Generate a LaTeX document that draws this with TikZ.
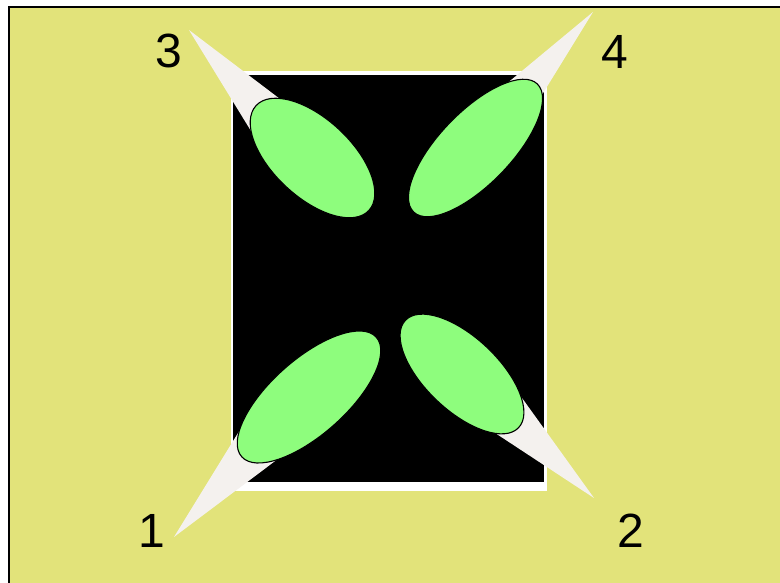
\documentclass[tikz,border=0pt]{standalone}
\usepackage{fontspec}
\setmainfont{Liberation Sans}
\definecolor{bgyellow}{HTML}{E2E37A}
\definecolor{leafgreen}{HTML}{8EFD7D}
\definecolor{spikewhite}{HTML}{F4F1EE}
\tikzset{
  spike/.style={fill=spikewhite, draw=none},
  leaf/.style={fill=leafgreen, draw=black, line width=1.1pt},
  numlabel/.style={inner sep=0pt, font=\fontsize{48}{48}\selectfont},
}
\begin{document}
\begin{tikzpicture}[x=1pt,y=-1pt]
\useasboundingbox (0,0) rectangle (780,583);
\clip (0,0) rectangle (780,583);
\fill[white] (0,0) rectangle (780,583);
% background panel
\filldraw[fill=bgyellow, draw=black, line width=1.6pt] (9,7) rectangle (800,600);
% frame
\fill[white] (231,71) rectangle (547,491);
\fill[black] (233,75) rectangle (544,482);
% tips and contact points
\coordinate (t3) at (189,30);
\coordinate (t4) at (593,12);
\coordinate (t1) at (174,537);
\coordinate (t2) at (594,498);
\coordinate (c3) at (312.5,158);
\coordinate (c4) at (475.5,148);
\coordinate (c1) at (309,397);
\coordinate (c2) at (462,374);
\coordinate (a3) at (259,144);   \coordinate (b3) at (284,102);
\coordinate (a4) at (504.3,85.6);\coordinate (b4) at (539.8,98.4);
\coordinate (a1) at (255,405.4); \coordinate (b1) at (282.6,455.4);
\coordinate (a2) at (514.1,387); \coordinate (b2) at (491.2,430.4);
% spikes
\fill[spike] (t3) -- (a3) -- (c3) -- (b3) -- cycle;
\fill[spike] (t4) -- (a4) -- (c4) -- (b4) -- cycle;
\fill[spike] (t1) -- (a1) -- (c1) -- (b1) -- cycle;
\fill[spike] (t2) -- (a2) -- (c2) -- (b2) -- cycle;
% leaves
\begin{scope}[shift={(c3)}, rotate=-43]
  \draw[leaf] (0,0) ellipse [x radius=77, y radius=39];
\end{scope}
\begin{scope}[shift={(c4)}, rotate=46]
  \draw[leaf] (0,0) ellipse [x radius=89, y radius=36];
\end{scope}
\begin{scope}[shift={(c1)}, rotate=41.6]
  \draw[leaf] (0,0) ellipse [x radius=90, y radius=37.5];
\end{scope}
\begin{scope}[shift={(c2)}, rotate=-43.5]
  \draw[leaf] (0,0) ellipse [x radius=78, y radius=36.5];
\end{scope}
% labels
\node[numlabel] (l3) at (168.5,51) {3};
\node[numlabel] (l4) at (614.5,52) {4};
\node[numlabel] (l1) at (151.5,531) {1};
\node[numlabel] (l2) at (631,531) {2};
\end{tikzpicture}
\end{document}
